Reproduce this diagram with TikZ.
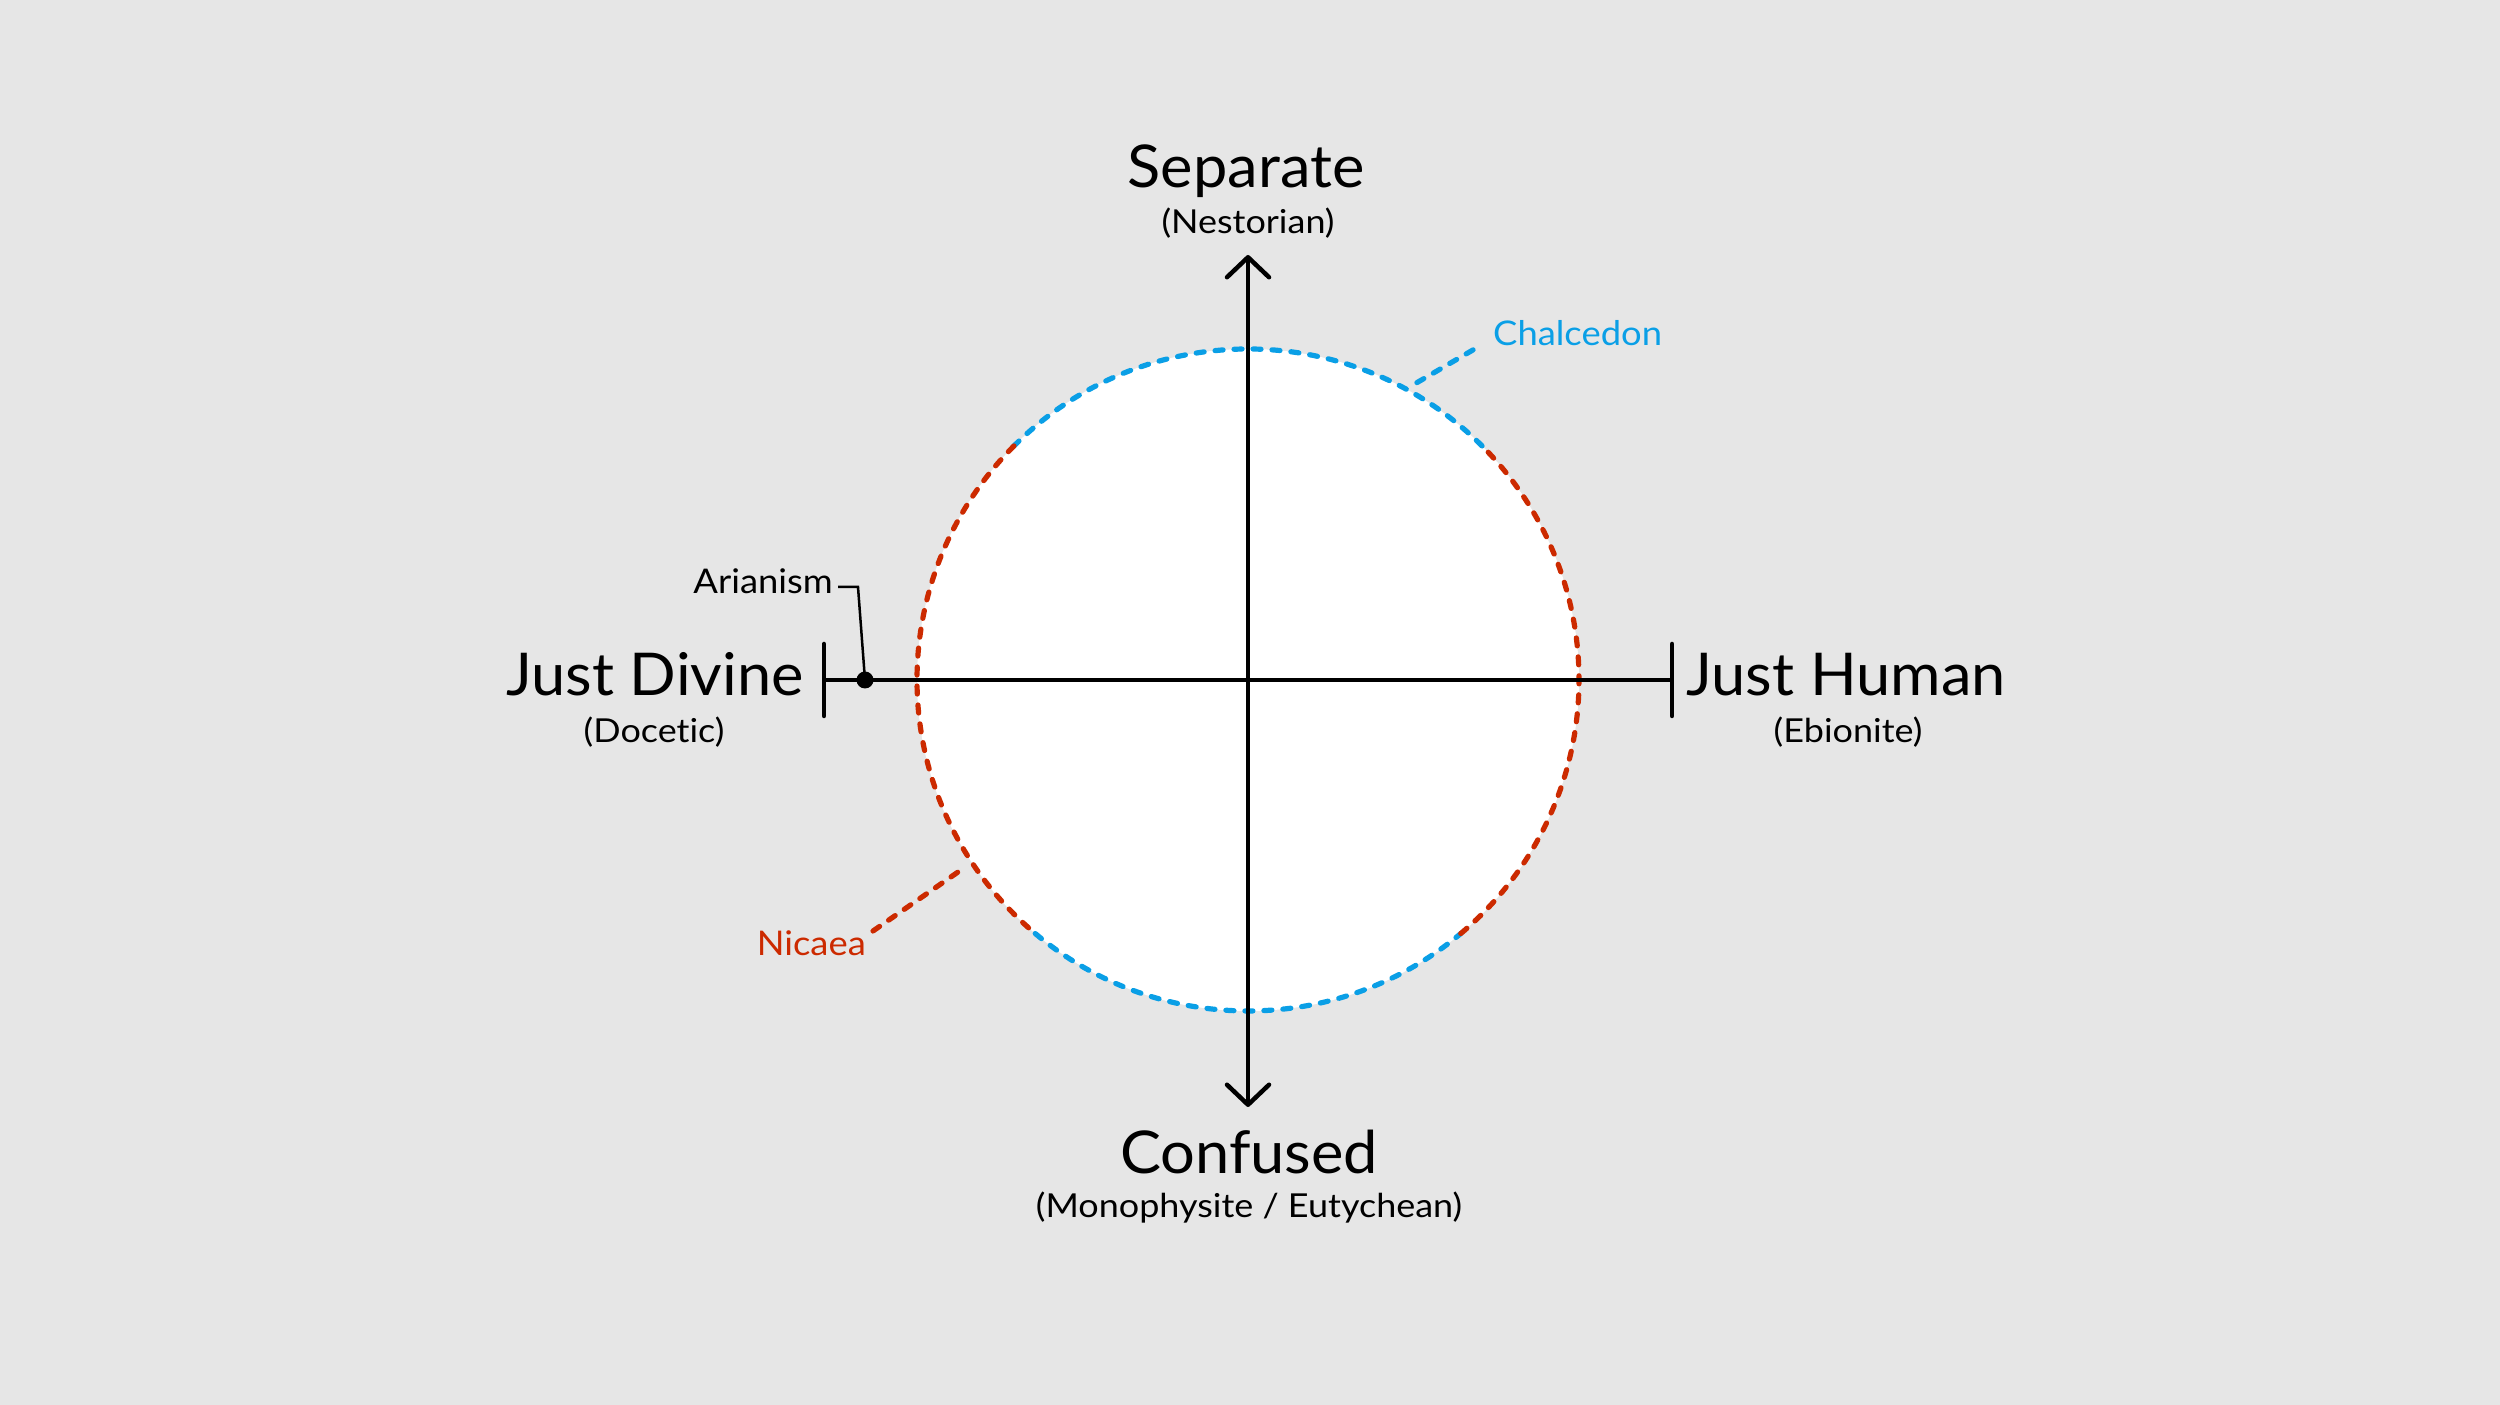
\documentclass[tikz,border=0pt]{standalone}
\usepackage{fontspec}
\setmainfont{Lato}
\newfontfamily\bigfont[FakeStretch=1.04,Ligatures=NoCommon]{Lato}
\newfontfamily\subfont[FakeStretch=1.09,Ligatures=NoCommon]{Lato}
\newfontfamily\notefont[FakeStretch=1.07,Ligatures=NoCommon]{Lato}
\usetikzlibrary{arrows.meta}
\definecolor{bg}{HTML}{E6E6E6}
\definecolor{chalc}{HTML}{0A9FE6}
\definecolor{nic}{HTML}{CC2A00}
\begin{document}
\begin{tikzpicture}[x=1pt,y=1pt,
  axis/.style={line width=4.5pt, black},
  council/.style={line width=5.2pt, dash pattern=on 8pt off 11pt, line cap=round},
  big/.style={font=\bigfont\fontsize{59}{61}\selectfont, anchor=base, inner sep=0pt},
  sub/.style={font=\subfont\fontsize{33}{35}\selectfont, anchor=base, inner sep=0pt},
  note/.style={font=\notefont\fontsize{34}{36}\selectfont, inner sep=0pt},
  tip/.style={-{Straight Barb[length=20pt,width=42pt,round]}}]
\fill[bg] (0,0) rectangle (2500,1405);
\useasboundingbox (0,0) rectangle (2500,1405);

% disc
\node[circle, fill=white, minimum size=662pt, inner sep=0pt, outer sep=0pt] (disc) at (1248,725) {};
\draw[council, chalc] (disc.45) arc[start angle=45, end angle=135, radius=331pt];
\draw[council, nic] (disc.135) arc[start angle=135, end angle=230, radius=331pt];
\draw[council, chalc] (disc.230) arc[start angle=230, end angle=310, radius=331pt];
\draw[council, nic] (disc.310) arc[start angle=310, end angle=405, radius=331pt];

% axes
\coordinate (top) at (1248,1150);
\coordinate (bot) at (1248,298);
\coordinate (lft) at (824,725);
\coordinate (rgt) at (1672,725);
\draw[axis, tip] (disc.center) -- (top);
\draw[axis, tip] (disc.center) -- (bot);
\draw[axis] (lft) -- (rgt);
\draw[axis, line cap=round] ([yshift=-36pt]lft) -- ([yshift=36pt]lft);
\draw[axis, line cap=round] ([yshift=-36pt]rgt) -- ([yshift=36pt]rgt);

% axis labels
\node[big] (sep) at (1246,1217) {Separate};
\node[sub] (nest) at (1248,1171) {(Nestorian)};
\node[big] (conf) at (1249,231) {Confused};
\node[sub] (mono) at (1249,187) {(Monophysite / Eutychean)};
\node[big] (div) at (655,709) {Just Divine};
\node[sub] (doc) at (654,662) {(Docetic)};
\node[big] (hum) at (1846,709) {Just Human};
\node[sub] (ebi) at (1848,662) {(Ebionite)};

% Arianism
\node[circle, fill=black, minimum size=17pt, inner sep=0pt] (dot) at (865,725) {};
\node[note, anchor=base east] (arian) at (833,811) {Arianism};
\draw[line width=2.5pt] ([xshift=5pt,yshift=7pt]arian.base east) -- ++(20,0) -- (dot.center);

% Chalcedon
\node[note, anchor=base west, text=chalc] (chal) at (1493,1059) {Chalcedon};
\draw[council, chalc] ([shift={(60.4:342pt)}]disc.center) -- ([xshift=-15pt,yshift=-1pt]chal.base west);

% Nicaea
\node[note, anchor=base east, text=nic] (nica) at (866,449) {Nicaea};
\draw[council, nic] ([xshift=7pt,yshift=25pt]nica.base east) -- ([shift={(213.5:344pt)}]disc.center);
\end{tikzpicture}
\end{document}
